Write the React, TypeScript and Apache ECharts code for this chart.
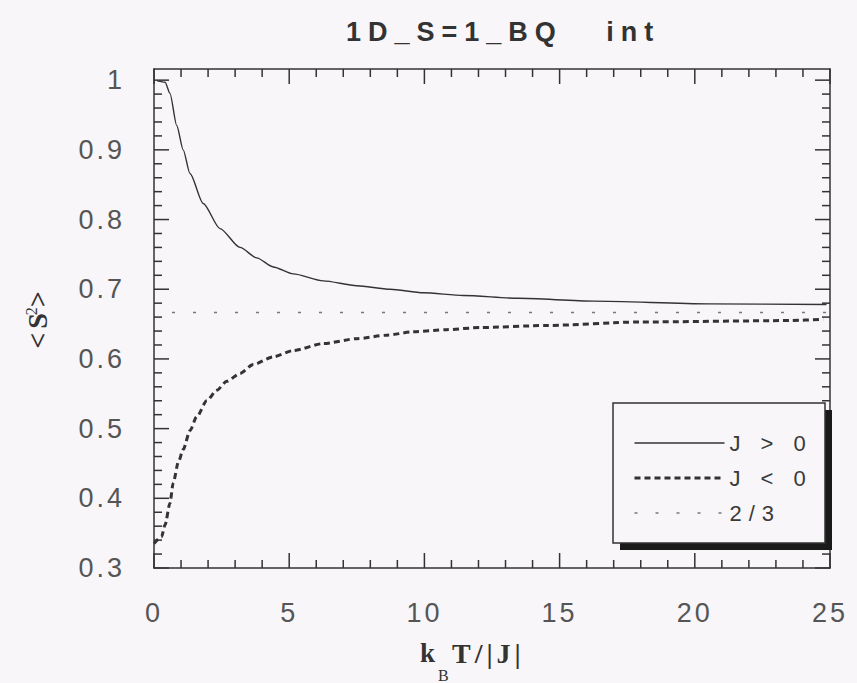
import React, { useEffect, useRef } from "react";
import * as echarts from "echarts";

// ---- data ----
const TITLE = "1D_S=1_BQ   int";
const X_MIN = 0;
const X_MAX = 25;
const Y_MIN = 0.3;
const Y_MAX = 1.016;
const X_TICKS = [0, 5, 10, 15, 20, 25];
const Y_TICKS = [0.3, 0.4, 0.5, 0.6, 0.7, 0.8, 0.9, 1.0];
const X_MINOR = [1, 2, 3, 4, 6, 7, 8, 9, 11, 12, 13, 14, 16, 17, 18, 19, 21, 22, 23, 24];
const Y_MINOR = [
  0.32, 0.34, 0.36, 0.38, 0.42, 0.44, 0.46, 0.48, 0.52, 0.54, 0.56, 0.58,
  0.62, 0.64, 0.66, 0.68, 0.72, 0.74, 0.76, 0.78, 0.82, 0.84, 0.86, 0.88,
  0.92, 0.94, 0.96, 0.98,
];

const SERIES_NAMES = ["J > 0", "J < 0", "2/3"];

const JPOS_X = [0.12, 0.41, 0.59, 0.84, 1.08, 1.33, 1.82, 2.44, 3.18, 3.8, 4.41, 5.15, 6.26, 7.5, 8.73, 9.96, 11.44, 13.47, 16.25, 20.5, 24.87];
const JPOS_Y = [0.999, 0.997, 0.981, 0.935, 0.9, 0.866, 0.823, 0.787, 0.76, 0.745, 0.732, 0.722, 0.712, 0.705, 0.7, 0.695, 0.691, 0.687, 0.683, 0.679, 0.678];

const JNEG_X = [0, 0.28, 0.41, 0.59, 0.71, 0.9, 1.08, 1.33, 1.58, 1.95, 2.32, 2.69, 3.18, 3.67, 4.41, 5.15, 6.26, 7.5, 8.61, 9.59, 10.82, 12.06, 14.52, 17.97, 23.52, 24.75];
const JNEG_Y = [0.335, 0.345, 0.362, 0.393, 0.422, 0.452, 0.47, 0.497, 0.517, 0.54, 0.555, 0.568, 0.579, 0.592, 0.603, 0.612, 0.622, 0.629, 0.634, 0.639, 0.642, 0.645, 0.648, 0.653, 0.655, 0.657];

const REF_X = [0, 25];
const REF_Y = [2 / 3, 2 / 3];

// ---- styling ----
const BG = "#f8f6f8";
const INK = "#333";
const SANS_TICK = "Arial, Liberation Sans, sans-serif";
const SANS_WIDE = "Helvetica, Liberation Sans, sans-serif";
const SERIF = "Liberation Serif, DejaVu Serif, serif";
const MAJOR_LEN = 15;
const MINOR_LEN = 8;

const zip = (xs: number[], ys: number[]) => xs.map((x, i) => [x, ys[i]]);

const css = `
.chart text[style*="Arial"] { letter-spacing: 3px; }
.chart text[style*="Helvetica"] { letter-spacing: 7px; }
.chart text[style*="Liberation Serif"] { letter-spacing: 4px; }
`;

const axisLineStyle = { color: INK, width: 1.5 };

function xAxisDef(position: "top" | "bottom", showLabel: boolean) {
  return {
    type: "value",
    position,
    min: X_MIN,
    max: X_MAX,
    interval: 5,
    axisLine: { show: true, onZero: false, lineStyle: axisLineStyle },
    axisTick: { show: false },
    splitLine: { show: false },
    axisLabel: {
      show: showLabel,
      margin: 31,
      fontFamily: SANS_TICK,
      fontSize: 27,
      color: "#555",
      customValues: X_TICKS,
    },
  };
}

function yAxisDef(position: "left" | "right", showLabel: boolean) {
  return {
    type: "value",
    position,
    min: Y_MIN,
    max: Y_MAX,
    axisLine: { show: true, onZero: false, lineStyle: axisLineStyle },
    axisTick: { show: false },
    splitLine: { show: false },
    axisLabel: {
      show: showLabel,
      margin: 29,
      fontFamily: SANS_TICK,
      fontSize: 27,
      color: "#555",
      customValues: Y_TICKS,
      formatter: (v: number) => String(Math.round(v * 10) / 10),
    },
  };
}

const tickStyle = { stroke: INK, lineWidth: 1.5 };

function renderXTick(_params: any, api: any) {
  const v = api.value(0);
  const len = api.value(2);
  const b = api.coord([v, Y_MIN]);
  const t = api.coord([v, Y_MAX]);
  return {
    type: "group",
    children: [
      { type: "line", shape: { x1: b[0], y1: b[1], x2: b[0], y2: b[1] - len }, style: tickStyle },
      { type: "line", shape: { x1: t[0], y1: t[1], x2: t[0], y2: t[1] + len }, style: tickStyle },
    ],
  };
}

function renderYTick(_params: any, api: any) {
  const v = api.value(1);
  const len = api.value(2);
  const l = api.coord([X_MIN, v]);
  const r = api.coord([X_MAX, v]);
  return {
    type: "group",
    children: [
      { type: "line", shape: { x1: l[0], y1: l[1], x2: l[0] + len, y2: l[1] }, style: tickStyle },
      { type: "line", shape: { x1: r[0], y1: r[1], x2: r[0] - len, y2: r[1] }, style: tickStyle },
    ],
  };
}

export default function App() {
  const ref = useRef<HTMLDivElement>(null);
  useEffect(() => {
    if (!ref.current) return;
    const chart = echarts.init(ref.current, null, { renderer: "svg" });
    const xTickData = [
      ...X_TICKS.map((v) => [v, Y_MIN, MAJOR_LEN]),
      ...X_MINOR.map((v) => [v, Y_MIN, MINOR_LEN]),
    ];
    const yTickData = [
      ...Y_TICKS.map((v) => [X_MIN, v, MAJOR_LEN]),
      ...Y_MINOR.map((v) => [X_MIN, v, MINOR_LEN]),
    ];
    const option: any = {
      animation: false,
      backgroundColor: BG,
      title: {
        text: TITLE,
        left: 346,
        top: 18,
        padding: 0,
        textStyle: { fontFamily: SANS_WIDE, fontSize: 27, fontWeight: "bold", color: INK },
      },
      grid: { left: 154, right: 27, top: 69, bottom: 115, containLabel: false },
      xAxis: [xAxisDef("bottom", true), xAxisDef("top", false)],
      yAxis: [yAxisDef("left", true), yAxisDef("right", false)],
      legend: {
        orient: "vertical",
        left: 633,
        top: 432,
        padding: 0,
        itemWidth: 90,
        itemHeight: 14,
        itemGap: 13,
        z: 20,
        data: [
          { name: SERIES_NAMES[0] },
          { name: SERIES_NAMES[1] },
          { name: SERIES_NAMES[2], lineStyle: { dashOffset: 0 } },
        ],
        textStyle: { fontFamily: SANS_WIDE, fontSize: 22, color: "#3a3a3a" },
        itemStyle: { opacity: 0, color: "transparent", borderWidth: 0 },
        lineStyle: { width: "inherit" },
        selectedMode: false,
      },
      graphic: [
        {
          type: "rect",
          z: 10,
          shape: { x: 620, y: 410, width: 212, height: 140 },
          style: { fill: "#1a1a1a" },
        },
        {
          type: "rect",
          z: 11,
          shape: { x: 613, y: 403, width: 212, height: 140 },
          style: { fill: BG, stroke: INK, lineWidth: 1.5 },
        },
        {
          type: "text",
          z: 12,
          x: 37,
          y: 317,
          rotation: Math.PI / 2,
          style: {
            text: "<S{sup|2}>",
            font: `bold 28px ${SERIF}`,
            fill: INK,
            align: "center",
            verticalAlign: "middle",
            rich: {
              sup: {
                fontSize: 16,
                fontFamily: SERIF,
                fontWeight: "normal",
                fill: INK,
                verticalAlign: "top",
                lineHeight: 16,
              },
            },
          },
        },
        {
          type: "text",
          z: 12,
          x: 420,
          y: 653,
          style: { text: "k", font: `bold 27px ${SERIF}`, fill: INK, align: "left", verticalAlign: "middle" },
        },
        {
          type: "text",
          z: 12,
          x: 438,
          y: 675,
          style: { text: "B", font: `16px ${SERIF}`, fill: INK, align: "left", verticalAlign: "middle" },
        },
        {
          type: "text",
          z: 12,
          x: 452,
          y: 653,
          style: { text: "T/|J|", font: `bold 28px ${SERIF}`, fill: INK, align: "left", verticalAlign: "middle" },
        },
      ],
      series: [
        {
          name: SERIES_NAMES[0],
          type: "line",
          data: zip(JPOS_X, JPOS_Y),
          symbol: "none",
          showSymbol: false,
          smooth: 0.25,
          smoothMonotone: "x",
          lineStyle: { color: INK, width: 1.4 },
          itemStyle: { color: INK },
        },
        {
          name: SERIES_NAMES[1],
          type: "line",
          data: zip(JNEG_X, JNEG_Y),
          symbol: "none",
          showSymbol: false,
          smooth: 0.25,
          smoothMonotone: "x",
          lineStyle: { color: INK, width: 3, type: [6, 4] },
          itemStyle: { color: INK },
        },
        {
          name: SERIES_NAMES[2],
          type: "line",
          data: zip(REF_X, REF_Y),
          symbol: "none",
          showSymbol: false,
          lineStyle: { color: "#777", width: 1.5, type: [3, 18], dashOffset: 3 },
          itemStyle: { color: "#777" },
        },
        {
          name: "xticks",
          type: "custom",
          silent: true,
          clip: false,
          z: 4,
          data: xTickData,
          encode: { x: 0, y: 1 },
          renderItem: renderXTick,
        },
        {
          name: "yticks",
          type: "custom",
          silent: true,
          clip: false,
          z: 4,
          data: yTickData,
          encode: { x: 0, y: 1 },
          renderItem: renderYTick,
        },
      ],
    };
    chart.setOption(option);
    return () => chart.dispose();
  }, []);
  return (
    <>
      <style>{css}</style>
      <div
        ref={ref}
        className="chart"
        style={{ position: "fixed", left: 0, top: 0, width: 857, height: 683, background: BG }}
      />
    </>
  );
}
